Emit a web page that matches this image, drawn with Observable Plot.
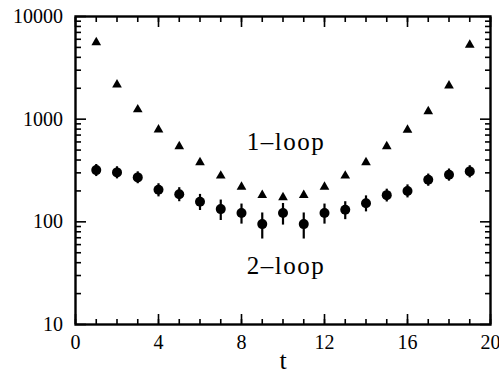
<!DOCTYPE html>
<html>
<head>
<meta charset="utf-8">
<script src="https://cdn.jsdelivr.net/npm/d3@7"></script>
<script src="https://cdn.jsdelivr.net/npm/@observablehq/plot@0.6"></script>
<style>
  html, body { margin: 0; padding: 0; background: #fff; }
</style>
</head>
<body>
<div id="chart"></div>
<script>
const tValues = [1,2,3,4,5,6,7,8,9,10,11,12,13,14,15,16,17,18,19];
const oneLoop = [5600,2170,1240,790,543,379,281,219,182,173,182,219,281,379,543,785,1190,2120,5290];
const twoLoop = [319,303,271,205,186,157,133,122,95,122,95,122,131,152,182,200,257,288,310];
const twoLoopErr = [43,41,36,30,29,28,30,27,27,29,27,27,26,27,26,29,35,39,42];
const xMajor = [0,4,8,12,16,20];
const xMinor = d3.range(0, 21);
const yMajor = [10,100,1000,10000];
const yMinor = [1,2,3].flatMap(k => [2,3,4,5,6,7,8,9].map(m => m * 10 ** k));

const one = tValues.map((t, i) => ({t, v: oneLoop[i]}));
const two = tValues.map((t, i) => ({t, v: twoLoop[i], lo: twoLoop[i] - twoLoopErr[i], hi: twoLoop[i] + twoLoopErr[i]}));

const serif = "Liberation Serif";

const chart = Plot.plot({
  width: 499,
  height: 377,
  marginLeft: 75,
  marginRight: 9,
  marginTop: 16,
  marginBottom: 53,
  style: {fontSize: "20px", fontFamily: serif, color: "#000", background: "#fff"},
  x: {domain: [0, 20]},
  y: {type: "log", domain: [10, 10000]},
  marks: [
    Plot.axisX({ticks: xMajor, tickSize: 0, tickPadding: 10, tickFormat: d => String(d), fontSize: 20, fontFamily: serif, label: null}),
    Plot.axisY({ticks: yMajor, tickSize: 0, tickPadding: 12.5, tickFormat: d => String(d), fontSize: 20, fontFamily: serif, label: null}),
    Plot.axisX({ticks: xMajor, tickSize: -10, strokeWidth: 1.6, text: null, label: null}),
    Plot.axisX({ticks: xMinor, tickSize: -5, strokeWidth: 1.6, text: null, label: null}),
    Plot.axisX({anchor: "top", ticks: xMajor, tickSize: -10, strokeWidth: 1.6, text: null, label: null}),
    Plot.axisX({anchor: "top", ticks: xMinor, tickSize: -5, strokeWidth: 1.6, text: null, label: null}),
    Plot.axisY({ticks: yMajor, tickSize: -11, strokeWidth: 1.6, text: null, label: null}),
    Plot.axisY({ticks: yMinor, tickSize: -6, strokeWidth: 1.6, text: null, label: null}),
    Plot.axisY({anchor: "right", ticks: yMajor, tickSize: -11, strokeWidth: 1.6, text: null, label: null}),
    Plot.axisY({anchor: "right", ticks: yMinor, tickSize: -6, strokeWidth: 1.6, text: null, label: null}),
    Plot.frame({strokeWidth: 2.4}),
    Plot.ruleX(two, {x: "t", y1: "lo", y2: "hi", strokeWidth: 2.2}),
    Plot.dot(two, {x: "t", y: "v", r: 5, fill: "#000", stroke: null}),
    Plot.dot(one, {x: "t", y: "v", r: 3.6, symbol: "triangle", fill: "#000", stroke: null}),
    Plot.text(["1–loop"], {x: 10, y: 593, dx: 3, text: d => d, fontSize: 25, fontFamily: serif, fill: "#000"}),
    Plot.text(["2–loop"], {x: 10, y: 37, dx: 3, text: d => d, fontSize: 25, fontFamily: serif, fill: "#000"}),
    Plot.text(["t"], {frameAnchor: "bottom", dy: 44, text: d => d, fontSize: 26, fontFamily: serif, fill: "#000"})
  ]
});
chart.querySelectorAll("text").forEach(el => {
  if (/loop/.test(el.textContent)) el.setAttribute("letter-spacing", "1.5");
});
document.getElementById("chart").appendChild(chart);
</script>
</body>
</html>
